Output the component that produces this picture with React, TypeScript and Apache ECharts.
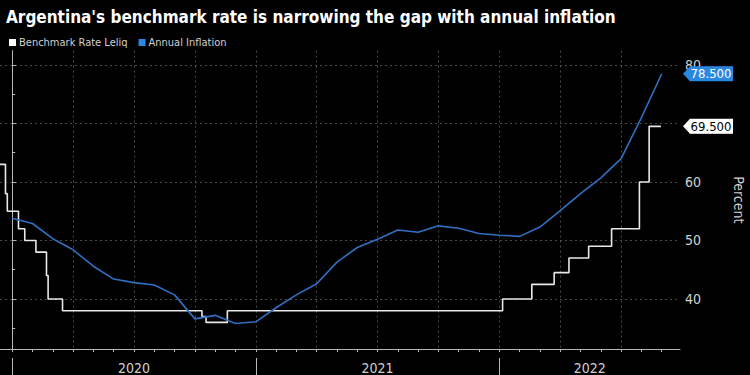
import React, { useEffect, useRef } from "react";
import * as echarts from "echarts";

const TITLE = "Argentina's benchmark rate is narrowing the gap with annual inflation";
const SERIES_NAMES = ["Benchmark Rate Leliq", "Annual Inflation"];

// x unit: months since 1 Jan 2020 (fractional)
const X_MIN = -0.6;
const X_MAX = 32.9;

// Leliq: date of change (months since 1 Jan 2020) and the new level (%)
const leliqDates = [-0.6, -0.33, -0.24, 0.31, 0.62, 1.17, 1.69, 1.77, 2.48, 9.35, 9.55, 10.6, 24.16, 25.6, 26.7, 27.43, 28.4, 29.53, 30.9, 31.38, 31.96];
const leliqRates = [63, 58, 55, 52, 50, 48, 44, 40, 38, 37, 36, 38, 40, 42.5, 44.5, 47, 49, 52, 60, 69.5, 69.5];

// Annual inflation, month-end readings Dec 2019 .. Aug 2022 (month index 0..32)
const inflationMonths = Array.from({ length: 33 }, (_, i) => i);
const inflationValues = [53.8, 52.9, 50.3, 48.4, 45.6, 43.4, 42.8, 42.4, 40.7, 36.6, 37.2, 35.8, 36.1, 38.5, 40.7, 42.6, 46.3, 48.8, 50.2, 51.8, 51.4, 52.5, 52.1, 51.2, 50.9, 50.7, 52.3, 55.1, 58.0, 60.7, 64.0, 71.0, 78.5];

const Y_TICKS = [40, 50, 60, 70, 80];
const Y_LABELS = [40, 50, 60, 80];
const Y_MINOR = [35, 45, 55, 65, 75];
const MONTH_TICKS = Array.from({ length: 33 }, (_, i) => i);
const QUARTER_LINES = [0, 3, 6, 9, 12, 15, 18, 21, 24, 27, 30];
const YEAR_SEPARATORS = [0, 12, 24];
const YEAR_LABEL_POS = [6, 18, 28.45];
const YEAR_LABELS = ["2020", "2021", "2022"];

const FONT = "'DejaVu Sans Condensed', 'Liberation Sans Narrow', 'DejaVu Sans', sans-serif";
const WHITE = "#e8e8e8";
const BLUE_LINE = "#2f70c2";
const BLUE_TAG = "#2a88e0";
const GRID = "#4a4a4a";
const AXIS = "#b8b8b8";
const LABEL = "#d0d0d0";

const tagPath = "path://M0,7 L7,0 L50,0 L50,14 L7,14 Z";

function tag(value: number, bg: string, fg: string) {
  return {
    symbol: tagPath,
    symbolSize: [50, 15],
    symbolOffset: [28, 0],
    symbolKeepAspect: false,
    itemStyle: { color: bg },
    label: {
      show: true,
      position: "inside",
      offset: [3, 0],
      color: fg,
      backgroundColor: bg,
      padding: [1, 1, 0, 1],
      fontSize: 13,
      fontFamily: FONT,
      formatter: () => value.toFixed(3),
    },
    data: [{ coord: [X_MAX, value] }],
  };
}

export default function App() {
  const ref = useRef<HTMLDivElement>(null);
  useEffect(() => {
    document.body.style.margin = "0";
    document.body.style.background = "#000";
    const chart = echarts.init(ref.current!, null, { renderer: "svg" });
    const leliqData = leliqDates.map((d, i) => [d, leliqRates[i]]);
    const inflData = inflationMonths.map((m, i) => [m, inflationValues[i]]);
    const lastLeliq = leliqRates[leliqRates.length - 1];
    const lastInfl = inflationValues[inflationValues.length - 1];
    const baseX = {
      type: "value",
      min: X_MIN,
      max: X_MAX,
      position: "bottom",
    };
    chart.setOption({
      animation: false,
      backgroundColor: "#000",
      title: {
        text: TITLE,
        left: 1,
        top: 3,
        textStyle: { color: "#ffffff", fontSize: 17, fontWeight: "bold", fontFamily: FONT },
      },
      legend: {
        data: SERIES_NAMES,
        left: 4,
        top: 32,
        icon: "rect",
        itemWidth: 7,
        itemHeight: 7,
        itemGap: 11,
        textStyle: { color: LABEL, fontSize: 11, fontFamily: FONT, padding: [0, 0, 0, -2] },
      },
      grid: { left: 0, right: 70, top: 50.6, bottom: 26, containLabel: false, outerBoundsMode: "none" },
      xAxis: [
        {
          ...baseX,
          axisLine: { show: true, lineStyle: { color: AXIS, width: 1 } },
          axisTick: { show: true, customValues: MONTH_TICKS, length: 3, lineStyle: { color: AXIS } },
          axisLabel: { show: false },
          splitLine: { show: false },
        },
        {
          ...baseX,
          axisLine: { show: false },
          axisTick: { show: false, customValues: QUARTER_LINES },
          axisLabel: { show: false },
          splitLine: { show: true, lineStyle: { color: GRID, type: [2, 3], width: 1 } },
        },
        {
          ...baseX,
          offset: 9,
          axisLine: { show: false },
          axisTick: { show: true, customValues: YEAR_SEPARATORS, length: 17, lineStyle: { color: AXIS } },
          axisLabel: {
            show: true,
            customValues: YEAR_LABEL_POS,
            formatter: (v: number) => YEAR_LABELS[YEAR_LABEL_POS.findIndex((p) => Math.abs(p - v) < 1e-6)] ?? "",
            color: LABEL,
            fontSize: 14,
            fontFamily: FONT,
            margin: 3,
          },
          splitLine: { show: false },
        },
      ],
      yAxis: [
        {
          type: "value",
          position: "right",
          min: 31.45,
          max: 82.45,
          name: "Percent",
          nameLocation: "middle",
          nameRotate: -90,
          nameGap: 52,
          nameTextStyle: { color: LABEL, fontSize: 14, fontFamily: FONT },
          axisLine: { show: true, lineStyle: { color: AXIS, width: 1 } },
          axisTick: { show: true, customValues: Y_TICKS, length: 4, lineStyle: { color: AXIS } },
          axisLabel: { show: true, customValues: Y_LABELS, color: LABEL, fontSize: 14, fontFamily: FONT, margin: 5 },
          splitLine: { show: true, lineStyle: { color: GRID, type: [2, 3], width: 1 } },
        },
        {
          type: "value",
          position: "right",
          min: 31.45,
          max: 82.45,
          axisLine: { show: false },
          axisTick: { show: true, customValues: Y_MINOR, length: 3, lineStyle: { color: AXIS } },
          axisLabel: { show: false },
          splitLine: { show: false },
        },
      ],
      series: [
        {
          name: SERIES_NAMES[0],
          type: "line",
          step: "end",
          data: leliqData,
          showSymbol: false,
          color: "#ffffff",
          itemStyle: { color: "#ffffff" },
          lineStyle: { color: WHITE, width: 1.6 },
          markPoint: tag(lastLeliq, "#ffffff", "#000000"),
        },
        {
          name: SERIES_NAMES[1],
          type: "line",
          data: inflData,
          showSymbol: false,
          color: BLUE_TAG,
          itemStyle: { color: BLUE_TAG },
          lineStyle: { color: BLUE_LINE, width: 1.6 },
          markPoint: tag(lastInfl, BLUE_TAG, "#ffffff"),
        },
      ],
    });
    return () => chart.dispose();
  }, []);
  return <div ref={ref} style={{ width: 750, height: 375, background: "#000" }} />;
}
